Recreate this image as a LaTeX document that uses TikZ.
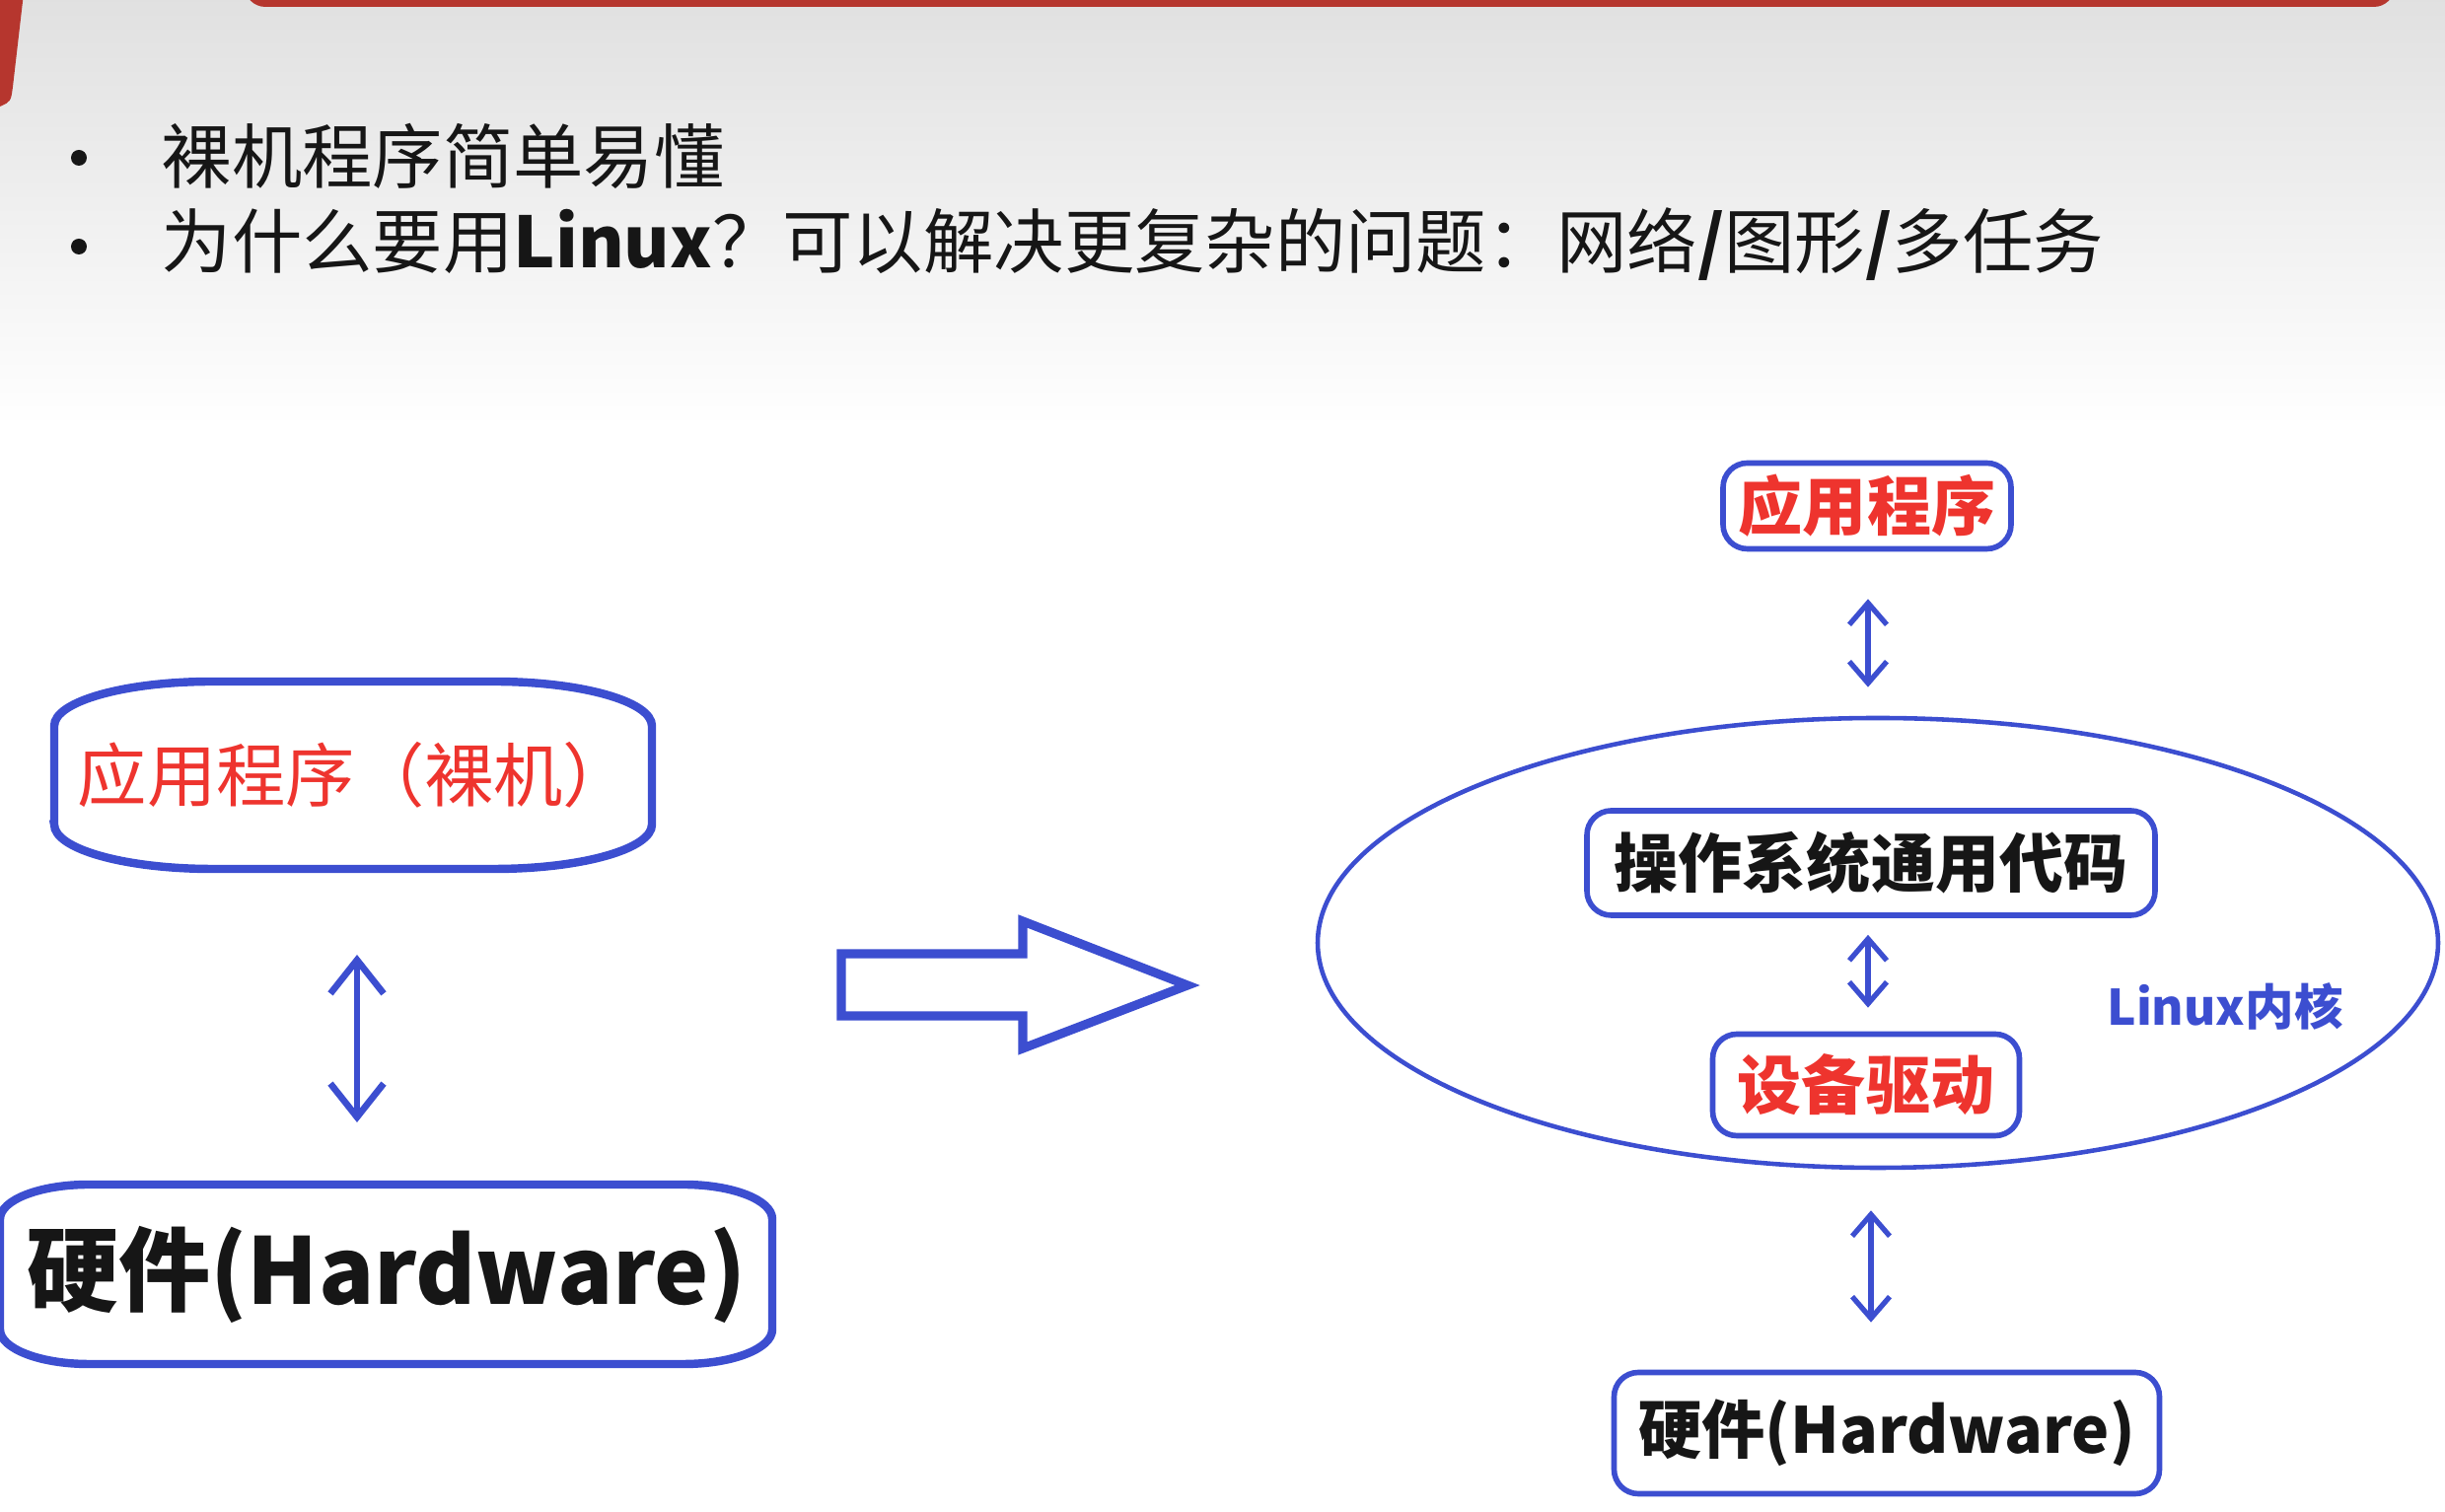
\documentclass[tikz,border=0pt]{standalone}
\usepackage{fontspec}
\setmainfont{Noto Sans CJK SC}
\usetikzlibrary{arrows.meta,shapes.geometric}
\definecolor{LineClr}{RGB}{60,78,208}
\definecolor{AppClr}{RGB}{238,52,46}
\definecolor{BarClr}{RGB}{182,54,46}
\definecolor{TextClr}{RGB}{22,22,22}
\newcommand\fsz[1]{\fontsize{#1}{#1}\selectfont}

\begin{document}
\begin{tikzpicture}[
  box/.style={draw=LineClr,line width=1.6pt,rounded corners=7pt,inner sep=0pt},
  plain/.style={inner sep=0pt},
  dotmark/.style={circle,fill=TextClr,minimum size=0.16cm,inner sep=0pt},
  link/.style={draw=LineClr,line width=1.5pt,{Straight Barb[length=2.2mm,width=3.8mm]}-{Straight Barb[length=2.2mm,width=3.8mm]}},
  biglink/.style={link,line width=1.9pt,{Straight Barb[length=3.4mm,width=5.4mm]}-{Straight Barb[length=3.4mm,width=5.4mm]}}
]
\useasboundingbox (0,0) rectangle (24.79,15.33);
\clip (0,0) rectangle (24.79,15.33);

% slide background
\shade[top color=black!12,bottom color=white] (0,11.0) rectangle (24.79,15.33);
\fill[BarClr] (0,15.4) -- (0.24,15.4) -- (0.13,14.45) .. controls (0.11,14.3) .. (0,14.25) -- cycle;
\fill[BarClr,rounded corners=6pt] (2.48,15.26) rectangle (24.28,15.9);

% bullets
\node[dotmark] (dot1) at (0.80,13.73) {};
\node[dotmark] (dot2) at (0.80,12.83) {};
\node[plain,anchor=west,text=TextClr,font=\fsz{20.3}] (easy) at (1.63,13.75) {裸机程序简单易懂};
\node[plain,anchor=west,text=TextClr,font=\fsz{20.3}] (why) at (1.63,12.85)
  {为什么要用\textbf{Linux}？可以解决更复杂的问题：网络\textbf{/}图形\textbf{/}多任务};

% bare metal
\node[plain,text=AppClr,font=\fsz{20}] (bareapp) at (3.60,7.47) {应用程序（裸机）};
\draw[LineClr,line width=2.4pt] (0.55,6.97) -- (0.55,7.97)
  arc[start angle=180,end angle=90,x radius=1.6cm,y radius=0.45cm] -- (5.01,8.42)
  arc[start angle=90,end angle=0,x radius=1.6cm,y radius=0.45cm] -- (6.61,6.97)
  arc[start angle=0,end angle=-90,x radius=1.6cm,y radius=0.45cm] -- (2.15,6.52)
  arc[start angle=270,end angle=180,x radius=1.6cm,y radius=0.45cm] -- cycle;
\coordinate (appfoot) at (3.62,6.52);

\node[plain,text=TextClr,font=\bfseries\fsz{26.5}] (barehw) at (3.92,2.41) {硬件(Hardware)};
\draw[LineClr,line width=2.4pt] (0,1.85) -- (0,2.97)
  arc[start angle=180,end angle=90,x radius=0.9cm,y radius=0.35cm] -- (6.93,3.32)
  arc[start angle=90,end angle=0,x radius=0.9cm,y radius=0.35cm] -- (7.83,1.85)
  arc[start angle=0,end angle=-90,x radius=0.9cm,y radius=0.35cm] -- (0.9,1.50)
  arc[start angle=270,end angle=180,x radius=0.9cm,y radius=0.35cm] -- cycle;
\coordinate (hwhead) at (3.62,3.32);

\draw[biglink,shorten <=0.87cm,shorten >=0.63cm] (appfoot) -- (hwhead);

% big arrow
\draw[LineClr,line width=2.6pt,line join=miter] (8.53,5.03) -- (8.53,5.66) -- (10.37,5.66) -- (10.37,5.99)
  -- (12.04,5.34) -- (10.37,4.70) -- (10.37,5.03) -- cycle;

% linux
\node[box,minimum width=2.92cm,minimum height=0.87cm,text=AppClr,font=\bfseries\fsz{18.5}] (app) at (18.93,10.20) {应用程序};
\node[draw=LineClr,line width=1.3pt,ellipse,minimum width=11.36cm,minimum height=4.56cm,inner sep=0pt] (kernel) at (19.04,5.77) {};
\node[box,minimum width=5.76cm,minimum height=1.06cm,text=TextClr,font=\bfseries\fsz{18.5}] (os) at (18.97,6.58) {操作系统通用代码};
\node[box,minimum width=3.11cm,minimum height=1.03cm,text=AppClr,font=\bfseries\fsz{18.5}] (drv) at (18.92,4.33) {设备驱动};
\node[plain,text=LineClr,font=\bfseries\fsz{14.1}] (klabel) at (22.56,5.13) {Linux内核};
\node[box,minimum width=5.53cm,minimum height=1.23cm,text=TextClr,font=\bfseries\fsz{18.3}] (hw) at (19.13,0.80) {硬件(Hardware)};

\draw[link,shorten <=0.48cm,shorten >=0.29cm] (app.south -| 18.94,0) -- (18.94,0 |- kernel.north);
\draw[link,shorten <=0.17cm,shorten >=0.24cm] (os.south -| 18.94,0) -- (18.94,0 |- drv.north);
\draw[link,shorten <=0.41cm,shorten >=0.48cm] (kernel.south -| 18.97,0) -- (18.97,0 |- hw.north);

\end{tikzpicture}
\end{document}
